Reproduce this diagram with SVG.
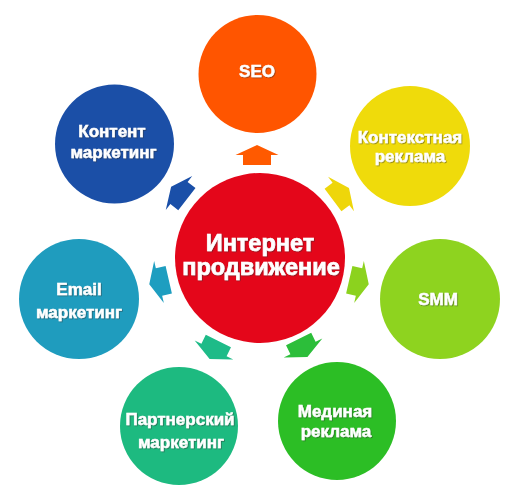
<svg xmlns="http://www.w3.org/2000/svg" width="522" height="501" viewBox="0 0 522 501">
<defs>
<style>
.lbl{font-family:"Liberation Sans",Arial,sans-serif;font-weight:bold;fill:#fff;stroke:#fff;stroke-width:0.5;text-anchor:middle;font-size:17px;filter:url(#sh)}
.big{font-size:23.5px;stroke-width:0.7}
</style>
<filter id="sh" x="-20%" y="-30%" width="140%" height="160%">
<feDropShadow dx="0.8" dy="0.8" stdDeviation="0.7" flood-color="#333" flood-opacity="0.55"/>
</filter>
<path id="arr" d="M-10,-14 L0,-14 L0,-21.5 L10,0 L0,21.5 L0,14 L-10,14 Z"/>
</defs>
<rect width="522" height="501" fill="#fff"/>
<g id="connectors">
<use href="#arr" fill="#FF5A00" transform="translate(257,155) rotate(-90)"/>
<use href="#arr" fill="#EED60A" transform="translate(341,194) rotate(-37)"/>
<use href="#arr" fill="#8CD21E" transform="translate(359,282) rotate(13)"/>
<use href="#arr" fill="#2CBE3A" transform="translate(303,348) rotate(64)"/>
<use href="#arr" fill="#1EBB88" transform="translate(214,350) rotate(116)"/>
<use href="#arr" fill="#1E9EC0" transform="translate(159,282) rotate(167)"/>
<use href="#arr" fill="#1A4FA8" transform="translate(179,193) rotate(218)"/>
</g>
<g id="center">
<circle cx="260" cy="258" r="85" fill="#E4061A"/>
<text class="lbl big" x="260" y="251">Интернет</text>
<text class="lbl big" x="261" y="275">продвижение</text>
</g>
<g id="seo">
<circle cx="257.5" cy="74" r="59" fill="#FF5500"/>
<text class="lbl" x="257" y="77">SEO</text>
</g>
<g id="context">
<circle cx="410" cy="146" r="60" fill="#EFDB0B"/>
<text class="lbl" x="410" y="143">Контекстная</text>
<text class="lbl" x="410" y="162">реклама</text>
</g>
<g id="smm">
<circle cx="440" cy="299" r="60" fill="#8ED31F"/>
<text class="lbl" x="438" y="305">SMM</text>
</g>
<g id="media">
<circle cx="337" cy="421" r="59" fill="#2CBE25"/>
<text class="lbl" x="335" y="417">Мединая</text>
<text class="lbl" x="336" y="437">реклама</text>
</g>
<g id="partner">
<circle cx="179" cy="426" r="59" fill="#1DBA80"/>
<text class="lbl" x="180" y="425">Партнерский</text>
<text class="lbl" x="181" y="448">маркетинг</text>
</g>
<g id="email">
<circle cx="79" cy="299" r="60" fill="#1F9CBE"/>
<text class="lbl" x="79" y="295">Email</text>
<text class="lbl" x="79" y="318">маркетинг</text>
</g>
<g id="content">
<circle cx="114.5" cy="144" r="59.5" fill="#1B4FA7"/>
<text class="lbl" x="112" y="137">Контент</text>
<text class="lbl" x="113.5" y="158">маркетинг</text>
</g>
</svg>
